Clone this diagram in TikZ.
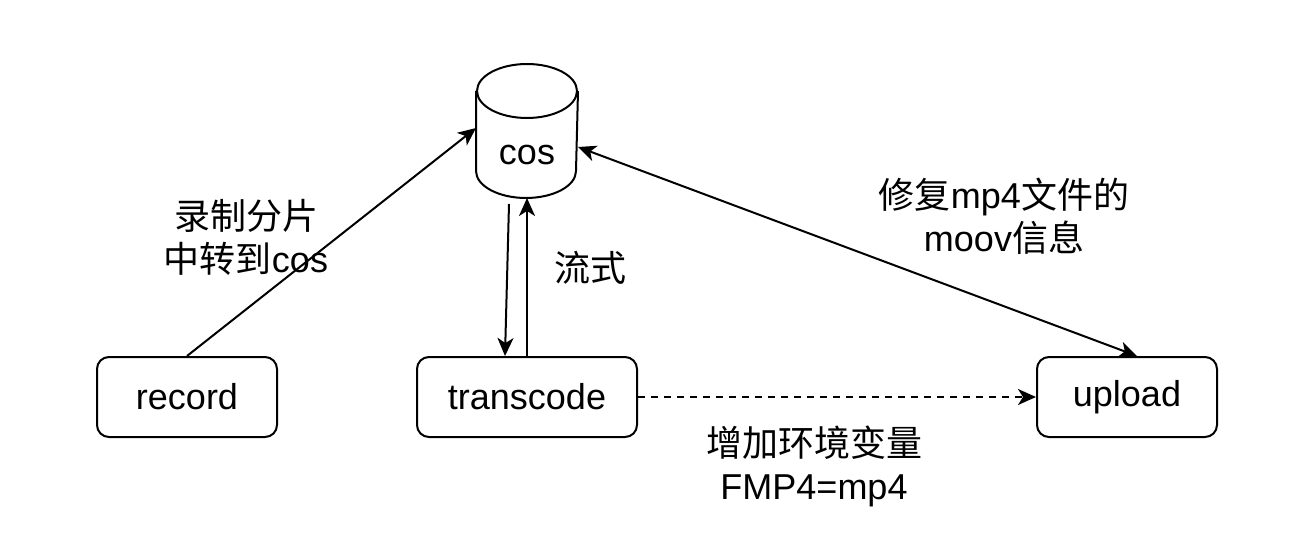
\documentclass[tikz,border=0pt]{standalone}
\usepackage{fontspec}
\setmainfont{Liberation Sans}
\newfontfamily\cjk{Noto Sans CJK SC}
\usetikzlibrary{arrows.meta}

\begin{document}
\begin{tikzpicture}[x=0.5pt,y=-0.5pt,line width=1pt,
    >={Stealth[length=9pt,width=8pt,inset=2.5pt]},
    every node/.style={font=\fontsize{18}{21.5}\selectfont},
    proc/.style={draw,rounded corners=6pt,minimum width=90pt,minimum height=40pt},
    lbl/.style={align=center}]
  \useasboundingbox (0,0) rectangle (1298,540);

  \node[proc]                      (rec)  at (187,397)  {record};
  \node[proc,minimum width=110pt]  (tc)   at (527,397)  {transcode};
  \node[proc]                      (up)   at (1127,397) {upload};

  % cos storage
  \node[minimum width=50pt,minimum height=66pt,inner sep=0pt] (cos) at (527,131) {};
  \draw ([yshift=-13.5pt]cos.north west) -- ([yshift=13.5pt]cos.south west)
        arc[start angle=180,end angle=360,x radius=25pt,y radius=13.5pt]
        -- ([yshift=-13.5pt]cos.north east);
  \draw ([yshift=-13.5pt]cos.north) ellipse[x radius=25pt,y radius=13.5pt];
  \node (cosname) at ([yshift=-12pt]cos.center) {cos};

  \path[->] (rec.north) edge ([yshift=1.5pt]cos.west)
            ([yshift=-8pt]cos.east) edge[<->] ([xshift=5pt]up.north)
            (tc.north) edge (cos.south)
            ([xshift=-9pt,yshift=-3pt]cos.south) edge ([xshift=-11pt]tc.north)
            (tc.east) edge[dash pattern=on 3.5pt off 3pt] (up.west);

  \node[lbl] (lrec)  at (246,237) {{\cjk 录制分片}\\{\cjk 中转到}cos};
  \node[lbl] (lflow) at (590,268) {\cjk 流式};
  \node[lbl] (lfix)  at (1004,216) {{\cjk 修复}mp4{\cjk 文件的}\\moov{\cjk 信息}};
  \node[lbl] (lenv)  at (814,466) {{\cjk 增加环境变量}\\FMP4=mp4};
\end{tikzpicture}
\end{document}
